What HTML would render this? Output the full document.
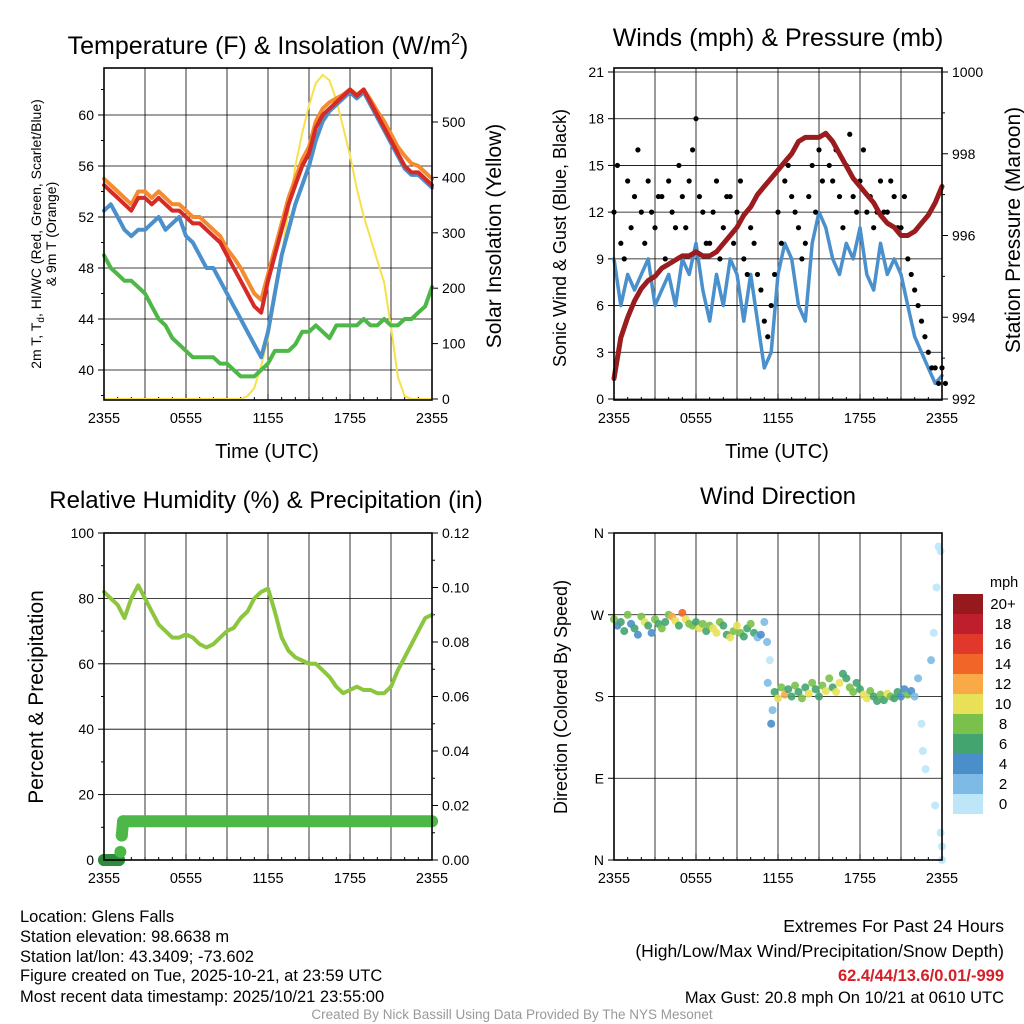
<!DOCTYPE html>
<html><head><meta charset="utf-8">
<style>
body{margin:0;background:#fff;}
svg{display:block;font-family:"Liberation Sans",Arial,sans-serif;}
</style></head>
<body>
<svg id="fig" width="1024" height="1024" viewBox="0 0 1024 1024" xmlns="http://www.w3.org/2000/svg">
<rect width="1024" height="1024" fill="#fff"/>
<text x="268" y="54" font-size="25" text-anchor="middle">Temperature (F) &amp; Insolation (W/m<tspan dy="-10" font-size="16">2</tspan><tspan dy="10">)</tspan></text>
<text x="778" y="46" font-size="25" text-anchor="middle">Winds (mph) &amp; Pressure (mb)</text>
<text x="266" y="508" font-size="24" text-anchor="middle">Relative Humidity (%) &amp; Precipitation (in)</text>
<text x="778" y="504" font-size="24" text-anchor="middle">Wind Direction</text>

<text transform="translate(41,234) rotate(-90)" font-size="14" text-anchor="middle">2m T, T<tspan font-size="10" dy="3">d</tspan><tspan dy="-3">, HI/WC (Red, Green, Scarlet/Blue)</tspan></text>
<text transform="translate(56,234) rotate(-90)" font-size="14" text-anchor="middle">&amp; 9m T (Orange)</text>
<text transform="translate(501,236) rotate(-90)" font-size="21" text-anchor="middle">Solar Insolation (Yellow)</text>
<text x="267" y="458" font-size="20" text-anchor="middle">Time (UTC)</text>
<text transform="translate(566,238) rotate(-90)" font-size="18" text-anchor="middle">Sonic Wind &amp; Gust (Blue, Black)</text>
<text transform="translate(1020,230) rotate(-90)" font-size="21" text-anchor="middle">Station Pressure (Maroon)</text>
<text x="777" y="458" font-size="20" text-anchor="middle">Time (UTC)</text>
<text transform="translate(43,697) rotate(-90)" font-size="21" text-anchor="middle">Percent &amp; Precipitation</text>
<text transform="translate(567,697) rotate(-90)" font-size="18" text-anchor="middle">Direction (Colored By Speed)</text>

<g font-size="16.5">
<text x="20" y="922">Location: Glens Falls</text>
<text x="20" y="942">Station elevation: 98.6638 m</text>
<text x="20" y="962">Station lat/lon: 43.3409; -73.602</text>
<text x="20" y="981">Figure created on Tue, 2025-10-21, at 23:59 UTC</text>
<text x="20" y="1002">Most recent data timestamp: 2025/10/21 23:55:00</text>
</g>
<g font-size="17.5" text-anchor="end">
<text x="1004" y="932">Extremes For Past 24 Hours</text>
<text x="1004" y="957">(High/Low/Max Wind/Precipitation/Snow Depth)</text>
<text x="1004" y="981" fill="#d42027" font-weight="bold" font-size="16.5">62.4/44/13.6/0.01/-999</text>
<text x="1004" y="1003" font-size="16.5">Max Gust: 20.8 mph On 10/21 at 0610 UTC</text>
</g>
<text x="512" y="1019" font-size="13.5" fill="#999" text-anchor="middle">Created By Nick Bassill Using Data Provided By The NYS Mesonet</text>
<g id="layer"></g>
</svg>
<script>
// ---------- data ----------
const hours = [0,0.5,1,1.5,2,2.5,3,3.5,4,4.5,5,5.5,6,6.5,7,7.5,8,8.5,9,9.5,10,10.5,11,11.5,12,12.5,13,13.5,14,14.5,15,15.5,16,16.5,17,17.5,18,18.5,19,19.5,20,20.5,21,21.5,22,22.5,23,23.5,24];
const xTickLabels = ["2355","0555","1155","1755","2355"];
const tempTicks = [40,44,48,52,56,60];
const solarTicks = [0,100,200,300,400,500];
const windTicks = [0,3,6,9,12,15,18,21];
const presTicks = [992,994,996,998,1000];
const rhTicks = [0,20,40,60,80,100];
const precipTicks = [0.00,0.02,0.04,0.06,0.08,0.10,0.12];
const dirTicks = ["N","E","S","W","N"];
const temp2m = [54.5,54,53.5,53,52.5,53.5,53.5,53,53.5,53,52.5,52.5,52,51.5,51.5,51,50.5,50,49,48,47,46,45,44.5,47,49,51,53,54.5,56,57,59,60,60.5,61,61.5,62,61.5,62,61,60,59,58,57,56,55.5,55.5,55,54.5];
const temp9m = [55,54.5,54,53.5,53,54,54,53.5,54,53.5,53,53,52.5,52,52,51.5,51,50.5,49.5,48.8,48,47,46,45.5,47.5,49.5,51.5,53.5,55,56.5,57.5,59.5,60.5,61,61.3,61.6,62,61.6,62,61.2,60.3,59.5,58.5,57.5,56.8,56.2,56,55.5,55];
const hiwc = [52.5,53,52,51,50.5,51,51,51.5,52,51,51.5,52,50.5,50,49,48,48,47,46,45,44,43,42,41,43,46,49,51,53,54.5,56,58,59.5,60.3,60.8,61.3,61.8,61.3,61.8,60.8,59.8,58.8,57.8,56.8,55.8,55.3,55.3,54.8,54.3];
const dewpt = [49,48,47.5,47,47,46.5,46,45,44,43.5,42.5,42,41.5,41,41,41,41,40.5,40.5,40,39.5,39.5,39.5,40,40.5,41.5,41.5,41.5,42,43,43,43.5,43,42.5,43.5,43.5,43.5,43.5,44,43.5,43.5,44,43.5,43.5,44,44,44.5,45,46.5];
const solar = [0,0,0,0,0,0,0,0,0,0,0,0,0,0,0,0,0,0,0,0,0,5,20,60,110,180,260,340,420,480,530,570,585,575,540,490,440,380,330,290,250,210,130,40,5,0,0,0,0];
const windSpd = [9,6,8,7,8,9,6,7,8,6,9,8,10,7,5,8,6,9,8,5,8,5,2,3,8,10,9,6,5,10,12,11,9,8,10,9,11,8,7,10,8,9,8,6,4,3,2,1,1.5];
const gustA = [12,10,14,13,12,14,11,13,14,11,13,14,18,12,10,14,11,13,12,9,11,8,5,6,12,14,13,11,10,15,16,17,14,13,15,13,14,12,11,14,12,13,11,9,7,5,3,2,2];
const gustB = [15,9,11,16,10,12,13,9,12,15,11,16,13,10,12,9,13,10,14,8,10,7,4,8,10,15,12,9,13,12,14,15,16,11,17,12,16,13,12,12,14,11,13,8,6,4,2,1,1];
const pressure = [992.5,993.5,994,994.4,994.7,994.9,995,995.2,995.3,995.4,995.5,995.5,995.6,995.5,995.5,995.6,995.8,996,996.2,996.5,996.7,997,997.2,997.4,997.6,997.8,998,998.3,998.4,998.4,998.4,998.5,998.3,998,997.7,997.4,997.2,997,996.8,996.5,996.3,996.2,996,996,996.1,996.3,996.5,996.8,997.2];
const rh = [82,80,78,74,80,84,80,76,72,70,68,68,69,68,66,65,66,68,70,71,74,76,80,82,83,76,68,64,62,61,60,60,58,56,53,51,52,53,52,52,51,51,53,58,62,66,70,74,75];
const precipTimes = [0,1.1,1.2,1.3,1.4,24];
const precipVals = [0,0,0.003,0.009,0.0142,0.0142];
const wdTime = [0,0.25,0.5,0.75,1,1.25,1.5,1.75,2,2.25,2.5,2.75,3,3.25,3.5,3.75,4,4.25,4.5,4.75,5,5.25,5.5,5.75,6,6.25,6.5,6.75,7,7.25,7.5,7.75,8,8.25,8.5,8.75,9,9.25,9.5,9.75,10,10.25,10.5,10.75,11,11.25,11.5,11.75,12,12.25,12.5,12.75,13,13.25,13.5,13.75,14,14.25,14.5,14.75,15,15.25,15.5,15.75,16,16.25,16.5,16.75,17,17.25,17.5,17.75,18,18.25,18.5,18.75,19,19.25,19.5,19.75,20,20.25,20.5,20.75,21,21.25,21.5,21.75,22,11.2,11.4,11.6,22.25,22.5,22.6,22.8,23.2,23.4,23.6,23.75,23.9,23.9,24,24,23.5];
const wdDir = [265,258,262,252,270,260,255,248,268,262,258,250,265,260,255,262,270,268,263,258,272,265,260,258,262,255,260,252,258,255,250,262,258,248,245,252,258,250,246,255,260,250,245,248,262,195,150,185,178,190,182,188,180,192,185,178,190,183,195,188,180,192,186,200,190,185,195,205,200,190,185,195,188,182,178,186,180,175,182,176,183,180,178,185,180,188,182,186,180,240,220,165,200,150,120,100,220,250,300,345,340,30,15,0,60];
const wdSpd = [8,4,7,6,9,5,7,4,8,10,6,5,8,7,9,6,8,12,10,7,14,11,9,8,6,10,8,7,9,11,10,8,6,7,10,9,11,8,7,6,9,7,3,5,2,2,4,6,10,8,12,7,6,8,6,9,7,10,8,7,6,9,10,8,6,11,10,7,6,9,8,6,7,10,11,9,7,6,8,6,10,9,6,7,5,4,8,5,3,2,1,2,2,1,1,1,2,1,1,0,1,0,1,0,1];
const cbLabels = ["20+","18","16","14","12","10","8","6","4","2","0"];
const cbColors = ["#961a1d","#bf1e2d","#e0382a","#f26529","#f9a945","#e8e157","#7ac14c","#44a470","#4a8fca","#7dbbe6","#bde6f8"];

// ---------- helpers ----------
const NS="http://www.w3.org/2000/svg";
const layer=document.getElementById('layer');
function mk(tag,attrs,parent){const e=document.createElementNS(NS,tag);for(const k in attrs)e.setAttribute(k,attrs[k]);(parent||layer).appendChild(e);return e;}
function lin(d0,d1,r0,r1){return v=>r0+(v-d0)*(r1-r0)/(d1-d0);}
function txt(x,y,s,anchor,size,parent){const t=mk('text',{x:x,y:y,'font-size':size||14,'text-anchor':anchor||'middle'},parent);t.textContent=s;return t;}

const panels=[{x0:104,x1:432,y0:68,y1:400,name:'temp'},{x0:614,x1:942,y0:68,y1:400,name:'wind'},{x0:104,x1:432,y0:533,y1:860,name:'rh'},{x0:614,x1:942,y0:533,y1:860,name:'wdir'}];

function frame(p){
  const g=mk('g',{});
  
  
  const xs=lin(0,24,p.x0,p.x1);
  for(let h=3;h<24;h+=3){mk('line',{x1:xs(h),x2:xs(h),y1:p.y0,y2:p.y1,stroke:'#000','stroke-width':0.8},g);}
  for(let h=0;h<=24;h+=1){mk('line',{x1:xs(h),x2:xs(h),y1:p.y1,y2:p.y1-(h%6==0?6:3),stroke:'#000','stroke-width':1},g);}
  xTickLabels.forEach((s,i)=>{txt(xs(i*6),p.y1+23,s,'middle',14.5,g);});
  return {g,xs};
}
function border(p){const r=mk('rect',{x:p.x0,y:p.y0,width:p.x1-p.x0,height:p.y1-p.y0,fill:'none',stroke:'#000','stroke-width':1.6});}
function yAxis(p,ticks,sc,side,grid,fmt,minor){
  const g=mk('g',{});
  
  
  ticks.forEach((v,i)=>{const y=sc(v);
    if(grid) mk('line',{x1:p.x0,x2:p.x1,y1:y,y2:y,stroke:'#000','stroke-width':0.8},g);
    if(side=='left'){mk('line',{x1:p.x0,x2:p.x0-6,y1:y,y2:y,stroke:'#000'},g);txt(p.x0-10,y+5,fmt?fmt(v,i):v,'end',14,g);}
    else{mk('line',{x1:p.x1,x2:p.x1+6,y1:y,y2:y,stroke:'#000'},g);txt(p.x1+10,y+5,fmt?fmt(v,i):v,'start',14,g);}
  });
  if(minor){minor.forEach(v=>{const y=sc(v);if(side=='left')mk('line',{x1:p.x0,x2:p.x0-3,y1:y,y2:y,stroke:'#000'},g);else mk('line',{x1:p.x1,x2:p.x1+3,y1:y,y2:y,stroke:'#000'},g);});}
}
function path(xs,ys,ts,vals,color,w,name){
  const d=vals.map((v,i)=>(i?'L':'M')+xs(ts[i]).toFixed(1)+','+ys(v).toFixed(1)).join('');
  const e=mk('path',{d:d,fill:'none',stroke:color,'stroke-width':w,'stroke-linejoin':'round','stroke-linecap':'round'});
  
  
  return e;
}

// ---------- panel 1 ----------
{const p=panels[0];const f=frame(p);const xs=f.xs;
 const yt=lin(40,60,370,115);const ys=lin(0,500,399,122);
 yAxis(p,tempTicks,yt,'left',true,null,[38,42,46,50,54,58,62]);
 yAxis(p,solarTicks,ys,'right',false);
 path(xs,ys,hours,solar,'#f7e14b',2,'solar-line');
 path(xs,yt,hours,dewpt,'#4db848',4,'dewpoint-line');
 path(xs,yt,hours,hiwc,'#4a90cc',4,'hiwc-line');
 path(xs,yt,hours,temp9m,'#f58a2e',4,'temp-9m-line');
 path(xs,yt,hours,temp2m,'#d62a26',4,'temp-2m-line');
 border(p);}
// ---------- panel 2 ----------
{const p=panels[1];const f=frame(p);const xs=f.xs;
 const yw=lin(0,21,399,72);const yp=lin(992,1000,399,72);
 yAxis(p,windTicks,yw,'left',true);
 yAxis(p,presTicks,yp,'right',false,null,[993,995,997,999]);
 path(xs,yw,hours,windSpd,'#4a90cc',3.5,'wind-speed-line');
 gustA.forEach((v,i)=>{const c=mk('circle',{cx:xs(hours[i]),cy:yw(v),r:2.6,fill:'#000'});
   
   });
 gustB.forEach((v,i)=>{const c=mk('circle',{cx:xs(hours[i]+0.25),cy:yw(v),r:2.6,fill:'#000'});
   
   });
 path(xs,yp,hours,pressure,'#9b1c1f',5,'pressure-line');
 border(p);}
// ---------- panel 3 ----------
{const p=panels[2];const f=frame(p);const xs=f.xs;
 const yr=lin(0,100,860,533);const yq=lin(0,0.12,860,533);
 yAxis(p,rhTicks,yr,'left',true,null,[10,30,50,70,90]);
 yAxis(p,precipTicks,yq,'right',false,(v)=>v.toFixed(2),[0.01,0.03,0.05,0.07,0.09,0.11]);
 path(xs,yr,hours,rh,'#8cc63f',4,'rh-line');
 path(xs,yq,precipTimes.slice(3),precipVals.slice(3),'#4db848',12,'precip-line');
 path(xs,yq,precipTimes.slice(0,2),precipVals.slice(0,2),'#2e8b3a',12,'precip-zero-line');
 precipTimes.forEach((t,i)=>{const c=mk('circle',{cx:xs(t),cy:yq(precipVals[i]),r:6,fill:i<2?'#2e8b3a':'#4db848'});
   
   });
 border(p);}
// ---------- panel 4 ----------
{const p=panels[3];const f=frame(p);const xs=f.xs;
 const yd=lin(0,360,860,533);
 yAxis(p,[0,90,180,270,360],yd,'left',true,(v,i)=>dirTicks[i]);
 wdTime.forEach((t,i)=>{const s=wdSpd[i];const bin=Math.min(10,Math.floor(s/2));
   const c=mk('circle',{cx:xs(t),cy:yd(wdDir[i]),r:4,fill:cbColors[10-bin],'fill-opacity':0.9});
   
   });
 border(p);
 const cb=mk('g',{});
 
 
 txt(990,587,'mph','start',14.5,cb);
 cbColors.forEach((c,i)=>{mk('rect',{x:953,y:594+i*20,width:30,height:20,fill:c},cb);
   txt(1003,609+i*20,cbLabels[i],'middle',15,cb);});
}
</script>
</body></html>
